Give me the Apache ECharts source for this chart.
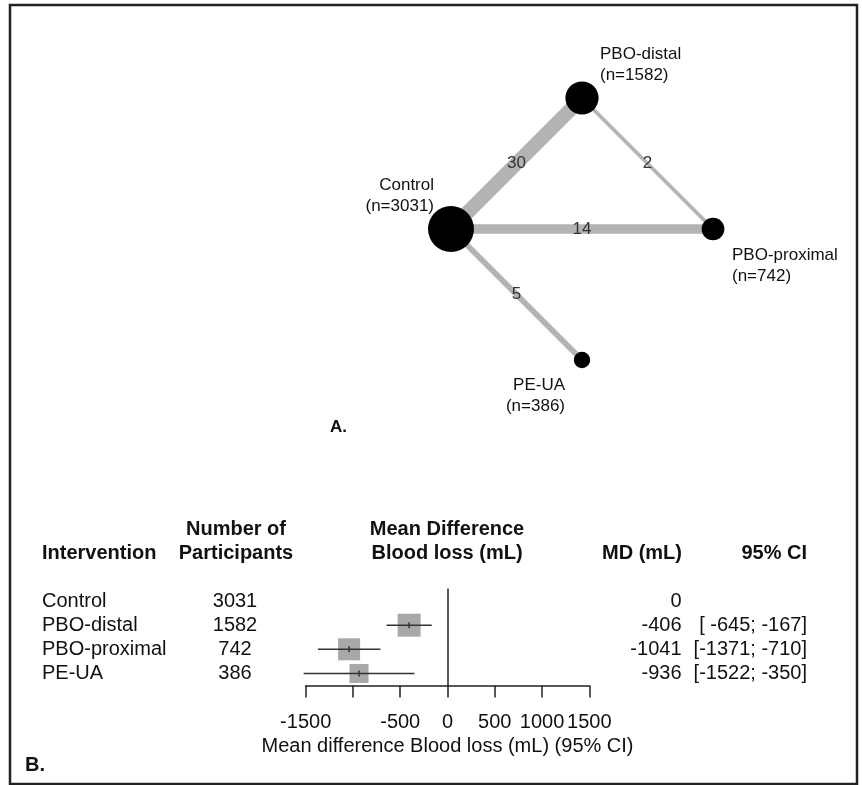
<!DOCTYPE html>
<html>
<head>
<meta charset="utf-8">
<script src="https://cdn.jsdelivr.net/npm/echarts@6/dist/echarts.min.js"></script>
<style>
html,body{margin:0;padding:0;background:#fff;}
#c{width:862px;height:785px;}
</style>
</head>
<body>
<div id="c"></div>
<script>
// ---------- DATA ----------
var interventions = ['Control', 'PBO-distal', 'PBO-proximal', 'PE-UA'];
var participants = [3031, 1582, 742, 386];
var meanDiff = [0, -406, -1041, -936];
var ciLow = [null, -645, -1371, -1522];
var ciHigh = [null, -167, -710, -350];
// network layout (netgraph coordinates) and direct comparisons
var nodeX = [0, 1, 2, 1];
var nodeY = [0, 1, 0, -1];
var edgeFrom = [0, 1, 0, 0];
var edgeTo = [1, 2, 2, 3];
var edgeStudies = [30, 2, 14, 5];
var xTicks = [-1500, -1000, -500, 0, 500, 1000, 1500];
var hiddenTickLabels = [-1000];

// ---------- STYLE ----------
var FONT = 'Liberation Sans, Arial, Helvetica, sans-serif';
var squareSize = [0, 23, 22, 19];
var labelOffsets = [[-17, -33.5, 'right'], [18, -33, 'left'], [19, 36.5, 'left'], [-17, 36, 'right']];

var chart = echarts.init(document.getElementById('c'), null, {renderer: 'canvas'});

var graphNodes = interventions.map(function (n, i) {
  return {name: n, value: [nodeX[i], nodeY[i]], symbolSize: 0.835 * Math.sqrt(participants[i])};
});
var graphLinks = edgeFrom.map(function (f, i) {
  return {source: interventions[f], target: interventions[edgeTo[i]],
          lineStyle: {width: 2.6 * Math.sqrt(edgeStudies[i])}};
});
var edgeMid = edgeFrom.map(function (f, i) {
  var t = edgeTo[i];
  return {value: [(nodeX[f] + nodeX[t]) / 2, (nodeY[f] + nodeY[t]) / 2], lab: String(edgeStudies[i])};
});
var nodeLabelData = interventions.map(function (n, i) {
  return {value: [nodeX[i], nodeY[i]],
          label: {offset: [labelOffsets[i][0], labelOffsets[i][1]], align: labelOffsets[i][2],
                  formatter: n + '\n(n=' + participants[i] + ')'}};
});

function fmtCI(i) {
  if (ciLow[i] === null) return '';
  return '[' + String(ciLow[i]).padStart(5, ' ') + '; ' + ciHigh[i] + ']';
}
var mdLabels = meanDiff.map(function (v) { return String(v); });
var ciLabels = interventions.map(function (n, i) { return fmtCI(i); });
var nLabels = participants.map(String);

var squares = [], ciData = [];
interventions.forEach(function (n, i) {
  if (ciLow[i] !== null) {
    squares.push({value: [meanDiff[i], i], symbolSize: squareSize[i]});
    ciData.push([ciLow[i], ciHigh[i], meanDiff[i], i]);
  }
});

function txt(text, x, y, align, bold, size) {
  return {type: 'text', silent: true,
    style: {text: text, x: x, y: y, align: align, textAlign: align, verticalAlign: 'middle', textVerticalAlign: 'middle',
      font: (bold ? 'bold ' : '') + size + 'px ' + FONT, fill: '#111'}};
}

var catAxisBase = function (data, pos, align, margin) {
  return {type: 'category', gridIndex: 1, data: data, inverse: true, position: pos,
    axisLine: {show: false, onZero: false}, axisTick: {show: false}, splitLine: {show: false},
    axisLabel: {interval: 0, align: align, margin: margin, fontSize: 20, color: '#111', fontFamily: FONT}};
};

var option = {
  animation: false,
  backgroundColor: '#fff',
  grid: [
    {left: 320, top: 32.5, width: 524, height: 393},
    {left: 305.7, top: 589, width: 283.6, height: 96.5}
  ],
  xAxis: [
    {type: 'value', gridIndex: 0, min: -1, max: 3, show: false},
    {type: 'value', gridIndex: 1, min: -1500, max: 1500, interval: 500,
      axisLine: {show: true, onZero: false, lineStyle: {color: '#222', width: 1.5}},
      axisTick: {show: true, inside: false, length: 12, lineStyle: {color: '#222', width: 1.5}},
      splitLine: {show: false},
      axisLabel: {fontSize: 20, color: '#111', fontFamily: FONT, margin: 27, showMinLabel: true, showMaxLabel: true,
        formatter: function (v) { return hiddenTickLabels.indexOf(v) >= 0 ? '' : String(v); }},
      name: 'Mean difference Blood loss (mL) (95% CI)', nameLocation: 'middle', nameGap: 51,
      nameTextStyle: {fontSize: 20, color: '#111', fontFamily: FONT}}
  ],
  yAxis: [
    {type: 'value', gridIndex: 0, min: -1.5, max: 1.5, show: false},
    {type: 'value', gridIndex: 1, min: -0.5, max: 3.5, inverse: true,
      axisLine: {show: true, onZero: true, lineStyle: {color: '#222', width: 1.5}},
      axisTick: {show: false}, axisLabel: {show: false}, splitLine: {show: false}},
    catAxisBase(interventions, 'left', 'left', 305.7 - 42),
    catAxisBase(nLabels, 'left', 'center', 305.7 - 235),
    catAxisBase(mdLabels, 'right', 'right', 681.5 - 589.3),
    catAxisBase(ciLabels, 'right', 'right', 807 - 589.3)
  ],
  series: [
    {type: 'graph', coordinateSystem: 'cartesian2d', xAxisIndex: 0, yAxisIndex: 0,
      data: graphNodes, links: graphLinks, symbol: 'circle',
      itemStyle: {color: '#000'}, label: {show: false},
      lineStyle: {color: '#b3b3b3', opacity: 1, curveness: 0},
      emphasis: {disabled: true}, silent: true, z: 2},
    {type: 'scatter', xAxisIndex: 0, yAxisIndex: 0, data: edgeMid, symbolSize: 1,
      itemStyle: {color: 'rgba(0,0,0,0)'}, silent: true, z: 4,
      label: {show: true, position: 'inside', fontSize: 17, color: '#333', opacity: 1, textBorderWidth: 0, fontFamily: FONT,
        formatter: function (p) { return p.data.lab; }}},
    {type: 'scatter', xAxisIndex: 0, yAxisIndex: 0, data: nodeLabelData, symbolSize: 1,
      itemStyle: {color: 'rgba(0,0,0,0)'}, silent: true, z: 4,
      label: {show: true, position: 'inside', fontSize: 17, lineHeight: 21, color: '#111', opacity: 1, textBorderWidth: 0,
        fontFamily: FONT, verticalAlign: 'middle'}},
    {type: 'scatter', xAxisIndex: 1, yAxisIndex: 1, data: squares, symbol: 'rect',
      itemStyle: {color: '#a8a8a8', opacity: 1}, silent: true, z: 3},
    {type: 'custom', xAxisIndex: 1, yAxisIndex: 1, data: ciData, silent: true, z: 5,
      encode: {x: [0, 1, 2], y: 3},
      renderItem: function (params, api) {
        var a = api.coord([api.value(0), api.value(3)]);
        var b = api.coord([api.value(1), api.value(3)]);
        var m = api.coord([api.value(2), api.value(3)]);
        return {type: 'group', children: [
          {type: 'line', shape: {x1: a[0], y1: a[1], x2: b[0], y2: b[1]}, style: {stroke: '#333', lineWidth: 1.5}},
          {type: 'line', shape: {x1: m[0], y1: m[1] - 3, x2: m[0], y2: m[1] + 3}, style: {stroke: '#333', lineWidth: 1.5}}
        ]};
      }}
  ],
  graphic: [
    {type: 'rect', silent: true, shape: {x: 10, y: 5, width: 847, height: 779},
      style: {fill: 'none', stroke: '#222', lineWidth: 2.5}},
    txt('A.', 330, 427, 'left', true, 17),
    txt('B.', 25, 765, 'left', true, 20),
    txt('Intervention', 42, 553, 'left', true, 20),
    txt('Number of', 236, 529, 'center', true, 20),
    txt('Participants', 236, 553, 'center', true, 20),
    txt('Mean Difference', 447, 529, 'center', true, 20),
    txt('Blood loss (mL)', 447, 553, 'center', true, 20),
    txt('MD (mL)', 682, 553, 'right', true, 20),
    txt('95% CI', 807, 553, 'right', true, 20)
  ]
};
chart.setOption(option);
</script>
</body>
</html>
